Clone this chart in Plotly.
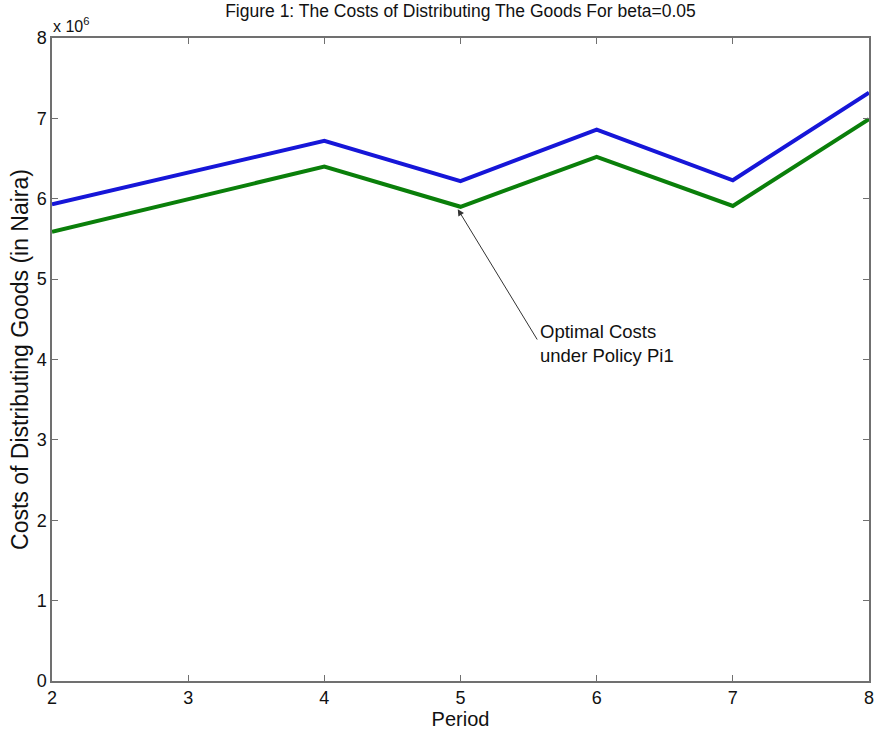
import plotly.graph_objects as go

period = [2, 4, 5, 6, 7, 8]
cost_blue = [5.93e6, 6.72e6, 6.22e6, 6.86e6, 6.23e6, 7.32e6]
cost_green = [5.59e6, 6.40e6, 5.90e6, 6.52e6, 5.91e6, 6.99e6]
x_ticks = [2, 3, 4, 5, 6, 7, 8]
y_tickvals = [0, 1e6, 2e6, 3e6, 4e6, 5e6, 6e6, 7e6, 8e6]
y_ticktext = ["0", "1", "2", "3", "4", "5", "6", "7", "8"]

FONT = "Liberation Sans, Arial, sans-serif"
AXC = "#707070"
TXT = "#111111"

W, H = 878, 743

fig = go.Figure()
fig.add_trace(go.Scatter(x=period, y=cost_blue, mode="lines",
                         line=dict(color="#1616d8", width=4), showlegend=False))
fig.add_trace(go.Scatter(x=period, y=cost_green, mode="lines",
                         line=dict(color="#0a7f0a", width=4), showlegend=False))

fig.update_layout(
    width=W, height=H,
    margin=dict(l=52, r=9, t=38, b=62),
    paper_bgcolor="white", plot_bgcolor="white",
    font=dict(family=FONT, color=TXT),
    title=dict(text="Figure 1: The Costs of Distributing The Goods For beta=0.05",
               x=(52 + 869) / 2 / W, xref="container", xanchor="center",
               y=1 - 11 / H, yref="container", yanchor="middle",
               font=dict(size=17.5, family=FONT, color=TXT)),
    xaxis=dict(range=[2, 8], tickvals=x_ticks, ticks="inside", ticklen=6, tickcolor=AXC,
               showline=True, linecolor=AXC, linewidth=1.5, mirror="ticks",
               showgrid=False, zeroline=False, tickfont=dict(size=18), automargin=False,
               title=dict(text="Period", font=dict(size=20), standoff=5)),
    yaxis=dict(range=[0, 8e6], tickvals=y_tickvals, ticktext=y_ticktext, ticks="inside",
               ticklen=6, tickcolor=AXC, showline=True, linecolor=AXC, linewidth=1.5,
               mirror="ticks", showgrid=False, zeroline=False, tickfont=dict(size=18),
               automargin=False,
               title=dict(text="Costs of Distributing Goods (in Naira)", font=dict(size=23),
                          standoff=2)),
)

fig.add_annotation(text="x 10<sup>6</sup>", xref="paper", yref="paper", x=0.0, y=1.0,
                   xanchor="left", yanchor="bottom", showarrow=False,
                   font=dict(size=16, family=FONT, color=TXT), yshift=1, xshift=-1)

fig.add_annotation(x=4.98, y=5.87e6, ax=5.57, ay=4.23e6, axref="x", ayref="y",
                   text="", showarrow=True, arrowhead=2, arrowsize=1.3, arrowwidth=1,
                   arrowcolor="#333333", standoff=0, startstandoff=0)
fig.add_annotation(x=5.57, y=4.2e6, text="Optimal Costs<br>under Policy Pi1",
                   showarrow=False, xanchor="left", yanchor="middle", align="left",
                   font=dict(size=18.5, family=FONT, color=TXT))

fig.write_html("out.html", config={"displayModeBar": False},
               post_script="document.body.style.margin='0';document.body.style.overflow='hidden';")
